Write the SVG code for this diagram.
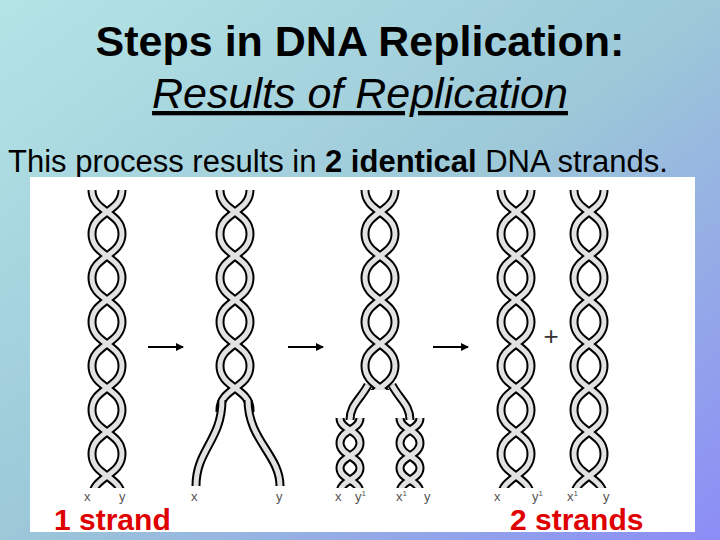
<svg xmlns="http://www.w3.org/2000/svg" width="720" height="540" viewBox="0 0 720 540">
<defs>
<linearGradient id="bg" x1="0" y1="0" x2="1" y2="1">
<stop offset="0" stop-color="#b4e4e6"/><stop offset="0.5" stop-color="#9cc8d8"/><stop offset="1" stop-color="#8c8cf6"/>
</linearGradient>
<marker id="ar" markerWidth="8" markerHeight="8" refX="7" refY="4" orient="auto" markerUnits="userSpaceOnUse"><path d="M0,0 L8,4 L0,8 Z" fill="#000"/></marker>
<g id="per">
<path d="M-15,0 C-15,22 15,22 15,44 C15,66 -15,66 -15,88"/>
<path d="M15,0 C15,22 -15,22 -15,44 C-15,66 15,66 15,88"/>
</g>
<g id="col">
<use href="#per" y="0"/><use href="#per" y="88"/><use href="#per" y="176"/><use href="#per" y="264"/>
</g>
<g id="sper">
<path d="M-10,0 C-10,12 10,12 10,25 C10,38 -10,38 -10,50"/>
<path d="M10,0 C10,12 -10,12 -10,25 C-10,38 10,38 10,50"/>
</g>
<g id="small"><use href="#sper"/><use href="#sper" y="50"/></g>
<clipPath id="cA"><rect x="0" y="190" width="720" height="298"/></clipPath>
<clipPath id="cB"><rect x="0" y="190" width="720" height="222"/></clipPath>
<clipPath id="cC"><rect x="0" y="190" width="720" height="200"/></clipPath>
<clipPath id="cD"><rect x="0" y="418" width="720" height="70"/></clipPath>
</defs>
<style>
.o{fill:none;stroke:#000;stroke-width:9}
.i{fill:none;stroke:#e2e2e2;stroke-width:5}
.lb{font-family:"Liberation Sans",Arial,sans-serif;font-size:13px;fill:#555}
.red{font-family:"Liberation Sans",Arial,sans-serif;font-size:30px;font-weight:bold;fill:#e00000}
</style>
<rect width="720" height="540" fill="url(#bg)"/>
<text x="360" y="56" text-anchor="middle" font-family="Liberation Sans,Arial,sans-serif" font-size="43" font-weight="bold">Steps in DNA Replication:</text>
<text x="360" y="108" text-anchor="middle" font-family="Liberation Sans,Arial,sans-serif" font-size="43" font-style="italic" text-decoration="underline">Results of Replication</text>
<text x="8" y="172" font-family="Liberation Sans,Arial,sans-serif" font-size="31">This process results in <tspan font-weight="bold">2 identical</tspan> DNA strands.</text>
<rect x="30" y="177" width="665" height="355" fill="#fff"/>
<g id="strand1" clip-path="url(#cA)">
<use href="#col" x="107" y="190" class="o"/><use href="#col" x="107" y="190" class="i"/>
</g>
<g id="unwinding1">
<g clip-path="url(#cB)"><use href="#col" x="235" y="190" class="o"/><use href="#col" x="235" y="190" class="i"/></g>
<path class="o" d="M222,400 C222,440 196,450 196,486 M248,400 C248,440 280,455 280,486"/>
<path class="i" d="M222,400 C222,440 196,450 196,486 M248,400 C248,440 280,455 280,486"/>
</g>
<g id="unwinding2">
<g clip-path="url(#cC)"><use href="#col" x="380" y="190" class="o"/><use href="#col" x="380" y="190" class="i"/></g>
<path class="o" d="M368,385 C360,400 350,405 350,420 M392,385 C400,400 410,405 410,420"/>
<path class="i" d="M368,385 C360,400 350,405 350,420 M392,385 C400,400 410,405 410,420"/>
<g clip-path="url(#cD)">
<use href="#small" x="350" y="418" class="o"/><use href="#small" x="350" y="418" class="i"/>
<use href="#small" x="410" y="418" class="o"/><use href="#small" x="410" y="418" class="i"/>
</g>
</g>
<g id="strands2" clip-path="url(#cA)">
<use href="#col" x="516" y="190" class="o"/><use href="#col" x="516" y="190" class="i"/>
<use href="#col" x="589" y="190" class="o"/><use href="#col" x="589" y="190" class="i"/>
</g>
<g id="connectors" stroke="#000" stroke-width="2" marker-end="url(#ar)">
<line x1="148" y1="347" x2="183" y2="347"/>
<line x1="288" y1="347" x2="323" y2="347"/>
<line x1="433" y1="347" x2="468" y2="347"/>
</g>
<text x="551" y="345" text-anchor="middle" font-family="Liberation Sans,Arial,sans-serif" font-size="26" fill="#333">+</text>
<g class="lb">
<text x="84" y="501">x</text><text x="119" y="501">y</text>
<text x="191" y="501">x</text><text x="276" y="501">y</text>
<text x="335" y="501">x</text><text x="355" y="501">y<tspan font-size="8" dy="-5">1</tspan></text>
<text x="396" y="501">x<tspan font-size="8" dy="-5">1</tspan></text><text x="424" y="501">y</text>
<text x="494" y="501">x</text><text x="532" y="501">y<tspan font-size="8" dy="-5">1</tspan></text>
<text x="567" y="501">x<tspan font-size="8" dy="-5">1</tspan></text><text x="603" y="501">y</text>
</g>
<text class="red" x="54" y="530">1 strand</text>
<text class="red" x="510" y="530">2 strands</text>
</svg>
